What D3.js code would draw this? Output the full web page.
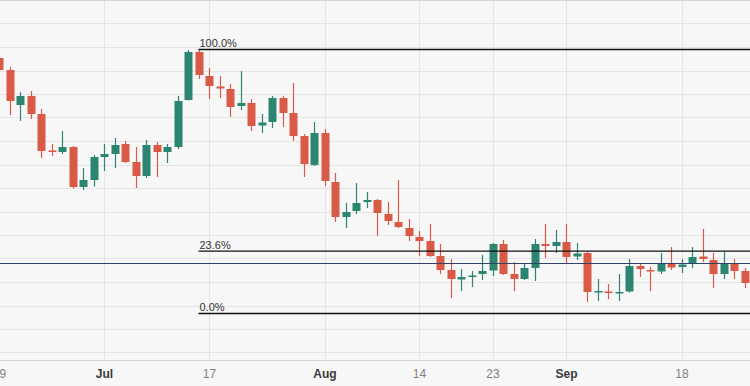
<!DOCTYPE html>
<html>
<head>
<meta charset="utf-8">
<script src="https://cdn.jsdelivr.net/npm/d3@7/dist/d3.min.js"></script>
<style>
  body { margin: 0; background: #f7f7f7; }
  svg { display: block; font-family: "Liberation Sans", Arial, sans-serif; }
</style>
</head>
<body>
<div id="chart"></div>
<script>

// Data: daily candles, Jun 19 - Sep 26 2023 (weekdays only)

  var dates = d3.timeDay.range(new Date(2023, 5, 19), new Date(2023, 8, 27))
      .filter(d => d.getDay() != 0 && d.getDay() != 6)
      .map(d3.timeFormat("%Y-%m-%d"));

  var open = [1.1184, 1.1160, 1.1090, 1.1108, 1.1072, 1.0999, 1.0996, 1.1006, 1.0926, 1.0940,
              1.0986, 1.0992, 1.1012, 1.0976, 1.0948, 1.1010, 1.0996, 1.1006, 1.1100, 1.1196,
              1.1148, 1.1127, 1.1122, 1.1088, 1.1094, 1.1049, 1.1056, 1.1104, 1.1074, 1.1028,
              1.0970, 1.1034, 1.0936, 1.0866, 1.0878, 1.0896, 1.0900, 1.0872, 1.0856, 1.0844,
              1.0826, 1.0818, 1.0788, 1.0760, 1.0741, 1.0747, 1.0752, 1.0759, 1.0812, 1.0752,
              1.0742, 1.0764, 1.0812, 1.0808, 1.0816, 1.0787, 1.0794, 1.0716, 1.0717, 1.0714,
              1.0717, 1.0768, 1.0760, 1.0757, 1.0773, 1.0766, 1.0774, 1.0787, 1.0780, 1.0752,
              1.0774, 1.0758];
  var high = [1.1190, 1.1166, 1.1116, 1.1118, 1.1082, 1.1012, 1.1038, 1.1008, 1.0964, 1.0990,
              1.1012, 1.1024, 1.1018, 1.1006, 1.1020, 1.1016, 1.1012, 1.1108, 1.1200, 1.1201,
              1.1164, 1.1148, 1.1132, 1.1158, 1.1102, 1.1072, 1.1108, 1.1108, 1.1134, 1.1032,
              1.1056, 1.1042, 1.0954, 1.0894, 1.0934, 1.0916, 1.0902, 1.0896, 1.0940, 1.0862,
              1.0838, 1.0852, 1.0812, 1.0782, 1.0762, 1.0758, 1.0790, 1.0814, 1.0820, 1.0776,
              1.0772, 1.0822, 1.0852, 1.0840, 1.0852, 1.0814, 1.0796, 1.0742, 1.0732, 1.0752,
              1.0782, 1.0772, 1.0766, 1.0794, 1.0806, 1.0782, 1.0806, 1.0842, 1.0794, 1.0796,
              1.0782, 1.0764];
  var low  = [1.1156, 1.1070, 1.1058, 1.1062, 1.0984, 1.0988, 1.0992, 1.0923, 1.0920, 1.0927,
              1.0958, 1.0964, 1.0974, 1.0924, 1.0944, 1.0946, 1.0974, 1.1002, 1.1099, 1.1142,
              1.1102, 1.1104, 1.1066, 1.1080, 1.1038, 1.1034, 1.1044, 1.1046, 1.1018, 1.0946,
              1.0968, 1.0928, 1.0856, 1.0844, 1.0872, 1.0884, 1.0828, 1.0850, 1.0844, 1.0818,
              1.0788, 1.0786, 1.0752, 1.0704, 1.0718, 1.0726, 1.0740, 1.0748, 1.0750, 1.0718,
              1.0740, 1.0738, 1.0784, 1.0794, 1.0774, 1.0780, 1.0696, 1.0698, 1.0702, 1.0698,
              1.0715, 1.0746, 1.0718, 1.0752, 1.0760, 1.0754, 1.0764, 1.0776, 1.0724, 1.0742,
              1.0742, 1.0724];
  var close = [1.1160, 1.1098, 1.1108, 1.1072, 1.0998, 1.0996, 1.1006, 1.0926, 1.0940, 1.0986,
               1.0992, 1.1010, 1.0976, 1.0948, 1.1010, 1.0996, 1.1006, 1.1098, 1.1196, 1.1150,
               1.1128, 1.1123, 1.1086, 1.1094, 1.1048, 1.1055, 1.1104, 1.1074, 1.1028, 1.0972,
               1.1034, 1.0938, 1.0866, 1.0876, 1.0894, 1.0900, 1.0874, 1.0858, 1.0846, 1.0828,
               1.0818, 1.0788, 1.0760, 1.0742, 1.0746, 1.0749, 1.0758, 1.0812, 1.0752, 1.0742,
               1.0764, 1.0812, 1.0808, 1.0816, 1.0786, 1.0793, 1.0716, 1.0718, 1.0714, 1.0716,
               1.0768, 1.0762, 1.0757, 1.0773, 1.0765, 1.0771, 1.0786, 1.0782, 1.0752, 1.0774,
               1.0758, 1.0734];

  var tickDates  = ["2023-06-19", "2023-07-03", "2023-07-17", "2023-08-01",
                    "2023-08-14", "2023-08-23", "2023-09-01", "2023-09-18"];
  var tickLabels = ["19", "Jul", "17", "Aug", "14", "23", "Sep", "18"];
  var monthTicks = ["Jul", "Aug", "Sep"];

  var gridLevels = [1.1253, 1.1206, 1.1159, 1.1112, 1.1065, 1.1018, 1.0971, 1.0924,
                    1.0877, 1.0830, 1.0783, 1.0736, 1.0689, 1.0642, 1.0595];

  // fibonacci retracement anchored on the Jul 14 high
  var fibStart = "2023-07-14";
  var fibHigh = 1.1201;
  var fibLow = 1.0673;
  var fibRatios = [1, 0.236, 0];
  var lastPrice = 1.0773;

// Chart setup

  var w = 750;
  var h = 386;
  var plotBottom = 360;

  var xScale = d3.scalePoint()
      .domain(dates)
      .range([-1, 744.5]);

  var yScale = d3.scaleLinear()
      .domain([1.0580, 1.1300])
      .range([plotBottom, 0]);

  var bodyW = 8;
  var up = "#2b8571";
  var down = "#d95b47";

  var svg = d3.select("div#chart")
    .append("svg")
      .attr("width", w)
      .attr("height", h);

  svg.append("rect")
      .attr("width", w)
      .attr("height", h)
      .attr("fill", "#f7f7f7");

// grid

  svg.append("g")
      .selectAll("line")
      .data(gridLevels)
    .enter().append("line")
      .attr("x1", 0)
      .attr("x2", w)
      .attr("y1", d => Math.round(yScale(d)) + 0.5)
      .attr("y2", d => Math.round(yScale(d)) + 0.5)
      .attr("stroke", "#e4e4e4");

  svg.append("g")
      .selectAll("line")
      .data(tickDates)
    .enter().append("line")
      .attr("x1", d => Math.round(xScale(d)) + 0.5)
      .attr("x2", d => Math.round(xScale(d)) + 0.5)
      .attr("y1", 0)
      .attr("y2", plotBottom)
      .attr("stroke", "#e4e4e4");

  svg.append("line")
      .attr("x1", 0).attr("x2", w)
      .attr("y1", 0.5).attr("y2", 0.5)
      .attr("stroke", "#d6d6d6");

// x axis

  var xAxis = d3.axisBottom(xScale)
      .tickValues(tickDates)
      .tickSize(0)
      .tickPadding(9)
      .tickFormat((d, i) => tickLabels[i]);

  var gx = svg.append("g")
      .attr("transform", `translate(0, ${plotBottom})`)
      .call(xAxis);

  gx.select(".domain").remove();
  gx.selectAll("text")
      .attr("font-size", 12)
      .attr("font-family", "Liberation Sans, Arial, sans-serif")
      .attr("fill", (d, i) => monthTicks.includes(tickLabels[i]) ? "#3a3a3a" : "#808080")
      .attr("font-weight", (d, i) => monthTicks.includes(tickLabels[i]) ? "bold" : "normal");

  svg.append("line")
      .attr("x1", 0).attr("x2", w)
      .attr("y1", plotBottom + 0.5).attr("y2", plotBottom + 0.5)
      .attr("stroke", "#d2d2d2");

// candles

  var candles = svg.append("g")
      .selectAll("g")
      .data(dates)
    .enter().append("g");

  candles.append("line")
      .attr("x1", d => Math.round(xScale(d)) + 0.5)
      .attr("x2", d => Math.round(xScale(d)) + 0.5)
      .attr("y1", (d, i) => yScale(high[i]))
      .attr("y2", (d, i) => yScale(low[i]))
      .attr("stroke", (d, i) => close[i] >= open[i] ? up : down)
      .attr("stroke-width", 1.2);

  candles.append("rect")
      .attr("x", d => Math.round(xScale(d)) + 0.5 - bodyW / 2)
      .attr("y", (d, i) => yScale(Math.max(open[i], close[i])))
      .attr("width", bodyW)
      .attr("height", (d, i) => Math.max(1.5, Math.abs(yScale(open[i]) - yScale(close[i]))))
      .attr("fill", (d, i) => close[i] >= open[i] ? up : down);

// last price line

  svg.append("line")
      .attr("x1", 0).attr("x2", w)
      .attr("y1", yScale(lastPrice)).attr("y2", yScale(lastPrice))
      .attr("stroke", "#2f4368")
      .attr("stroke-width", 1);

// fibonacci levels

  var fib = svg.append("g")
      .selectAll("g")
      .data(fibRatios)
    .enter().append("g");

  fib.append("line")
      .attr("x1", xScale(fibStart))
      .attr("x2", w)
      .attr("y1", d => yScale(fibLow + d * (fibHigh - fibLow)))
      .attr("y2", d => yScale(fibLow + d * (fibHigh - fibLow)))
      .attr("stroke", "#111")
      .attr("stroke-width", 1.3);

  fib.append("text")
      .attr("x", xScale(fibStart) + 1)
      .attr("y", d => yScale(fibLow + d * (fibHigh - fibLow)) - 2.5)
      .attr("font-size", 11)
      .attr("fill", "#333")
      .text(d => d3.format(".1f")(d * 100) + "%");

</script>
</body>
</html>
